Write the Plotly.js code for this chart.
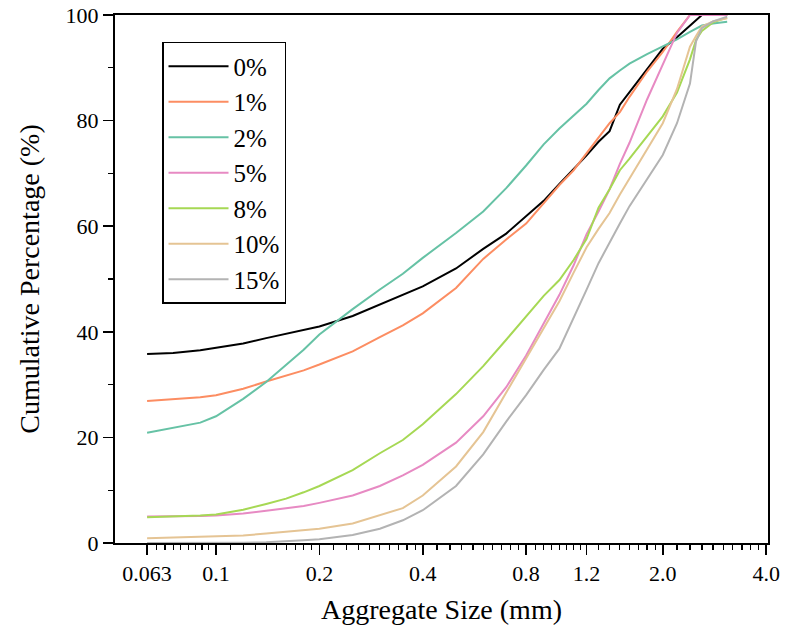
<!DOCTYPE html>
<html>
<head>
<meta charset="utf-8">
<script src="https://cdn.plot.ly/plotly-3.0.1.min.js"></script>
<style>html,body{margin:0;padding:0;background:#fff;}#chart{width:789px;height:635px;}</style>
</head>
<body>
<div id="chart"></div>
<script>
// Aggregate size (mm)
const sizes = [0.063, 0.075, 0.09, 0.1, 0.12, 0.14, 0.16, 0.18, 0.2, 0.25, 0.3, 0.35, 0.4, 0.5, 0.6, 0.7, 0.8, 0.9, 1.0, 1.1, 1.2, 1.3, 1.4, 1.5, 1.6, 1.8, 2.0, 2.2, 2.4, 2.5, 2.6, 2.8, 3.08];

// Cumulative percentage (%) per dosage
const p0  = [35.8, 36.0, 36.5, 37.0, 37.8, 38.8, 39.6, 40.3, 41.0, 43.0, 45.2, 47.0, 48.6, 52.0, 55.7, 58.6, 61.8, 64.8, 68.0, 70.8, 73.4, 76.0, 78.0, 83.0, 85.4, 89.9, 93.6, 95.8, 97.9, 99.0, 100, 100, 100];
const p1  = [26.9, 27.2, 27.6, 28.0, 29.2, 30.6, 31.7, 32.7, 33.8, 36.3, 39.0, 41.2, 43.5, 48.3, 53.8, 57.5, 60.5, 64.3, 67.8, 70.6, 73.8, 76.8, 79.5, 81.6, 84.5, 89.3, 93.0, 96.8, 100, 100, 100, 100, 100];
const p2  = [20.9, 21.8, 22.8, 24.0, 27.3, 30.5, 33.8, 36.6, 39.5, 44.3, 48.0, 51.0, 54.0, 58.7, 62.8, 67.2, 71.5, 75.5, 78.5, 81.0, 83.2, 85.8, 88.0, 89.5, 90.8, 92.6, 94.0, 95.4, 96.8, 97.4, 98.0, 98.4, 98.7];
const p5  = [5.0, 5.0, 5.1, 5.2, 5.6, 6.1, 6.6, 7.0, 7.6, 9.0, 10.8, 12.8, 14.8, 19.0, 24.0, 29.5, 35.5, 41.5, 47.0, 52.6, 58.5, 62.8, 67.0, 71.8, 75.8, 84.0, 90.5, 96.6, 100, 100, 100, 100, 100];
const p8  = [4.9, 5.0, 5.2, 5.4, 6.3, 7.4, 8.4, 9.6, 10.8, 13.8, 17.0, 19.5, 22.5, 28.2, 33.5, 38.5, 42.8, 46.8, 49.8, 53.6, 57.6, 63.5, 67.0, 70.6, 72.8, 77.0, 80.8, 85.3, 91.6, 95.3, 97.0, 98.6, 99.5];
const p10 = [0.9, 1.0, 1.1, 1.2, 1.4, 1.8, 2.1, 2.4, 2.7, 3.7, 5.2, 6.6, 9.0, 14.5, 21.0, 28.5, 35.0, 40.8, 45.8, 51.2, 56.0, 59.5, 62.5, 66.0, 69.0, 74.5, 79.5, 86.0, 94.0, 96.0, 97.8, 98.8, 99.4];
const p15 = [0, 0, 0, 0, 0.05, 0.15, 0.3, 0.5, 0.7, 1.5, 2.7, 4.3, 6.2, 10.8, 16.8, 23.0, 28.0, 32.8, 36.8, 42.5, 48.0, 53.0, 57.0, 60.5, 63.8, 69.0, 73.5, 79.5, 87.0, 95.0, 97.5, 98.8, 99.7];

const seriesNames = ['0%', '1%', '2%', '5%', '8%', '10%', '15%'];
const seriesValues = [p0, p1, p2, p5, p8, p10, p15];
const seriesColors = ['#000000', '#fc8d62', '#66c2a5', '#e78ac3', '#a6d854', '#e5c494', '#b3b3b3'];

const xTickVals = [0.063, 0.1, 0.2, 0.4, 0.8, 1.2, 2.0, 4.0];
const xTickText = ['0.063', '0.1', '0.2', '0.4', '0.8', '1.2', '2.0', '4.0'];
const xMinorVals = [0.067, 0.071, 0.075, 0.079, 0.083, 0.087, 0.091, 0.095,
  0.11, 0.12, 0.13, 0.14, 0.15, 0.16, 0.17, 0.18, 0.19,
  0.22, 0.24, 0.26, 0.28, 0.30, 0.32, 0.34, 0.36, 0.38,
  0.44, 0.48, 0.52, 0.56, 0.60, 0.64, 0.68, 0.72, 0.76,
  0.85, 0.90, 0.95, 1.0, 1.05, 1.10, 1.15,
  1.3, 1.4, 1.5, 1.6, 1.7, 1.8, 1.9,
  2.2, 2.4, 2.6, 2.8, 3.0, 3.2, 3.4, 3.6, 3.8];
const yTickVals = [0, 20, 40, 60, 80, 100];
const yMinorVals = [10, 30, 50, 70, 90];

const traces = seriesNames.map((name, i) => ({
  type: 'scatter',
  mode: 'lines',
  name: name,
  legendgroup: 'g' + i,
  x: sizes,
  y: seriesValues[i],
  line: {color: seriesColors[i], width: 2}
}));

const font = 'Liberation Serif';

const layout = {
  width: 789,
  height: 635,
  margin: {l: 115, r: 21, t: 15, b: 92},
  paper_bgcolor: '#fff',
  plot_bgcolor: '#fff',
  font: {family: font, color: '#000', size: 22},
  showlegend: true,
  legend: {
    x: 0.072, y: 0.949, xanchor: 'left', yanchor: 'top',
    bordercolor: '#000', borderwidth: 1.5, bgcolor: '#fff',
    font: {family: font, size: 25, color: '#000'},
    tracegroupgap: 0,
    itemwidth: 60
  },
  xaxis: {
    type: 'log',
    range: [Math.log10(0.0508), Math.log10(4.05)],
    tickmode: 'array',
    tickvals: xTickVals,
    ticktext: xTickText,
    ticks: 'outside', ticklen: 10, tickwidth: 1.5, tickcolor: '#000',
    minor: {tickmode: 'array', tickvals: xMinorVals, ticks: 'outside', ticklen: 5, tickwidth: 1.2, tickcolor: '#000', showgrid: false},
    showline: true, linecolor: '#000', linewidth: 2, mirror: true,
    showgrid: false, zeroline: false,
    tickfont: {family: font, size: 22, color: '#000'},
    title: {text: 'Aggregate Size (mm)', font: {family: font, size: 28, color: '#000'}, standoff: 14}
  },
  yaxis: {
    range: [0, 100],
    tickmode: 'array',
    tickvals: yTickVals,
    ticks: 'outside', ticklen: 10, tickwidth: 1.5, tickcolor: '#000',
    minor: {tickmode: 'array', tickvals: yMinorVals, ticks: 'outside', ticklen: 5, tickwidth: 1.2, tickcolor: '#000', showgrid: false},
    showline: true, linecolor: '#000', linewidth: 2, mirror: true,
    showgrid: false, zeroline: false,
    tickfont: {family: font, size: 22, color: '#000'},
    title: {text: 'Cumulative Percentage (%)', font: {family: font, size: 28, color: '#000'}, standoff: 18}
  }
};

Plotly.newPlot('chart', traces, layout, {displayModeBar: false, staticPlot: true});
</script>
</body>
</html>
